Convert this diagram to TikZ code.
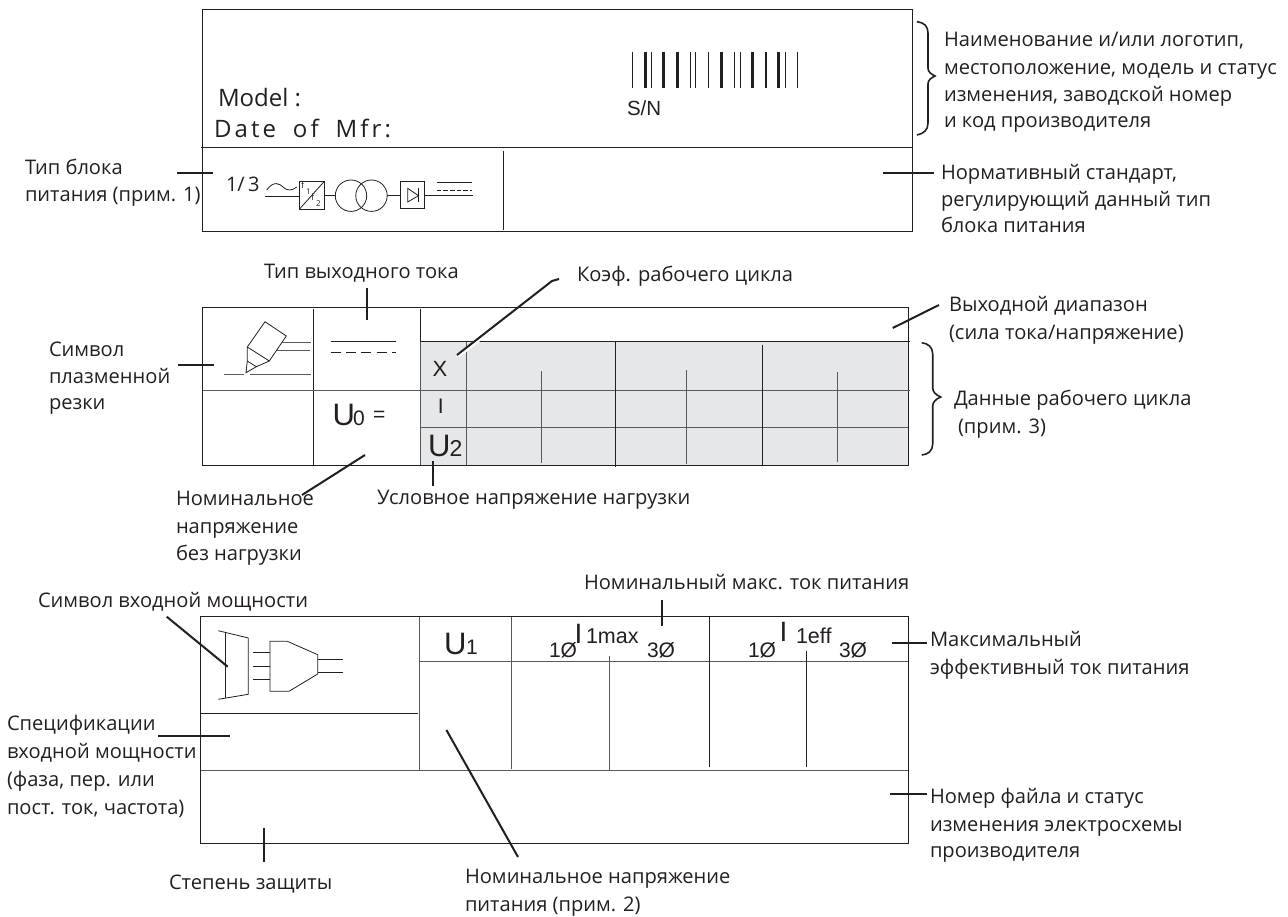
\documentclass[tikz,border=0pt]{standalone}
\usepackage{fontspec}
\setmainfont{Open Sans}
\newfontfamily\arialf{Liberation Sans}
\newfontfamily\modelf{Open Sans}
\newfontfamily\datef[LetterSpace=13,WordSpace=1.8]{Open Sans}
\definecolor{ink}{HTML}{231F20}
\definecolor{cellgray}{HTML}{E6E7E8}
\definecolor{rulegray}{HTML}{58595B}
\tikzset{
  lbl/.style={inner sep=0pt,outer sep=0pt,anchor=base west,yshift=-1pt,text=ink,font=\fontsize{20.1}{24}\selectfont},
  sym/.style={inner sep=0pt,outer sep=0pt,anchor=base west,text=ink},
  frame/.style={draw=ink,line width=1pt},
  graycell/.style={draw=rulegray,line width=0.9pt},
  thin/.style={draw=ink,line width=0.8pt},
  leaderline/.style={draw=ink,line width=2pt},
  bracestyle/.style={draw=ink,line width=1.6pt,line join=miter},
}
\newcommand{\fnt}[1]{\fontsize{#1}{#1}\selectfont}
\newcommand{\leader}[3]{\coordinate (#1a) at (#2);\coordinate (#1b) at (#3);\draw[leaderline] (#1a) -- (#1b);}
\begin{document}
\begin{tikzpicture}[x=1pt,y=-1pt]
\useasboundingbox (0,0) rectangle (1288,917);
% ---- box 1
\draw[frame] (202.5,10) rectangle (912,231.5);
\draw[frame] (201,148) -- (912,148);
\draw[frame] (503,151) -- (503,230);
\node[sym,font=\modelf\fnt{24}] (model) at (218,106.5) {Model :};
\node[sym,font=\datef\fnt{24}] (date) at (214,137.5) {Date of Mfr:};
\node[sym,font=\arialf\fnt{20.5}] (sn) at (627,116) {S/N};
\foreach \bx/\bw in {632.7/1,645.3/2.6,651.3/1,663.3/2.6,677.3/2.8,690/1,695.7/1,708.3/1,721.7/2.6,734/1,740/1,752.7/2.8,766/2.8,778.7/2.8,785/1,797.3/1}
  \draw[ink,line width=\bw pt] (\bx,52) -- (\bx,88);
% single-line scheme
\node[sym,font=\fnt{20}] (ph) at (226,192) {1/\,3};
\draw[thin] (266.7,190) .. controls (274,180) and (280,184) .. (283,187) .. controls (287,191) and (292,191) .. (296.7,187);
\draw[thin] (264.7,196.5) -- (299.3,196.5);
\draw[thin] (299.3,181.7) rectangle (324,209.3);
\draw[thin] (299.3,209.3) -- (324,181.7);
\node[sym,font=\fnt{9}] (f1a) at (301,189) {f};
\node[sym,font=\fnt{8}] (f1b) at (306,195) {1};
\node[sym,font=\fnt{9}] (f2a) at (311,201) {f};
\node[sym,font=\fnt{8}] (f2b) at (316,207) {2};
\draw[thin] (324,195.7) -- (335.3,195.7);
\draw[thin] (351,195.7) circle (15.7);
\draw[thin] (371.5,195.7) circle (15.7);
\draw[thin] (387.2,195.7) -- (400.7,195.7);
\draw[thin] (400.7,181) rectangle (424.3,208.3);
\draw[thin] (407.7,188.3) -- (407.7,202) -- (418.5,195.7) -- cycle;
\draw[thin] (418.7,188.3) -- (418.7,202);
\draw[thin] (424.3,195.7) -- (472.7,195.7);
\draw[thin] (436.7,182.7) -- (471.7,182.7);
\draw[thin,dash pattern=on 4.6pt off 2pt] (436.7,190) -- (471.7,190);
% ---- box 2
\fill[cellgray] (420,342) rectangle (908.5,465.5);
\draw[frame] (202.5,308) rectangle (908.5,465.5);
\draw[frame] (313.3,309) -- (313.3,465);
\draw[frame] (420,309) -- (420,342);
\draw[graycell] (420,342) -- (420,465);
\draw[graycell] (203,390) -- (420,390);
\draw[frame] (420,342) -- (910,342);
\draw[graycell] (420,390) -- (910,390);
\draw[graycell] (420,427.7) -- (908,427.7);
\draw[graycell] (466,342) -- (466,465);
\draw[frame] (615.3,342) -- (615.3,467);
\draw[frame] (762.3,345) -- (762.3,465);
\draw[graycell] (541,371) -- (541,463);
\draw[graycell] (686.7,370) -- (686.7,464);
\draw[graycell] (837.7,372) -- (837.7,462);
% plasma symbol
\draw[thin,line join=round] (265,321.7) -- (286.3,336) -- (269.3,361) -- (256.3,366.7) -- (247.3,361) -- (247.3,347) -- cycle;
\draw[thin] (247.3,347) -- (269.3,361);
\draw[thin] (247.3,361) -- (246,372.7) -- (256.3,366.7);
\draw[graycell,line width=1pt] (281.7,342.3) -- (310.7,342.3);
\draw[graycell,line width=1pt] (277.3,350.7) -- (310,350.7);
\draw[graycell,line width=1pt] (224.3,374) -- (244,374);
\draw[graycell,line width=1pt] (250,374.7) -- (310.7,374.7);
% output current
\draw[thin] (331,341.7) -- (396,341.7);
\draw[thin,dash pattern=on 10pt off 5.2pt] (331,352.7) -- (396,352.7);
% gray-table and U0 texts
\node[sym,font=\arialf\fnt{31}] (uz) at (332.5,425) {U};
\node[sym,font=\arialf\fnt{21}] (uzi) at (353,425.5) {0};
\node[sym,font=\arialf\fnt{21}] (uze) at (373,421) {=};
\node[sym,font=\arialf\fnt{22},anchor=base] (xl) at (440,376.5) {X};
\node[sym,font=\arialf\fnt{21},anchor=base] (il) at (440.7,413.5) {I};
\node[sym,font=\arialf\fnt{31}] (ut) at (428,456.7) {U};
\node[sym,font=\arialf\fnt{23}] (uti) at (449.5,456.7) {2};
% ---- box 3
\draw[frame] (200.5,616.5) -- (908.5,616.5) -- (908.5,843) -- (200.5,843) -- cycle;
\draw[graycell] (419,616.5) -- (419,770);
\draw[frame] (201,713.3) -- (418,713.3);
\draw[graycell] (419,661.7) -- (908,661.7);
\draw[graycell] (201,770) -- (908,770);
\draw[graycell] (511,617) -- (511,769);
\draw[frame] (709.3,617) -- (709.3,767);
\draw[graycell] (609,655.5) -- (609,770);
\draw[frame] (806.3,650.5) -- (806.3,767);
% input power symbol
\draw[thin] (218.3,630.7) -- (248.3,638) -- (248.3,694.3) -- (218.3,699.3);
\draw[thin] (225,632.3) -- (225,698.3);
\draw[thin] (253.3,652.3) -- (270,652.3);
\draw[thin] (253.3,666) -- (270,666);
\draw[thin] (253.3,679.7) -- (270,679.7);
\draw[thin] (270,641.3) -- (287.3,641.3) -- (317.7,654.7) -- (317.7,674) -- (289,691.3) -- (270,691.3) -- cycle;
\draw[thin] (317.7,659.3) -- (343.3,659.3);
\draw[thin] (317.7,672.7) -- (343.3,672.7);
\node[sym,font=\arialf\fnt{31}] (uo) at (444,654) {U};
\node[sym,font=\arialf\fnt{21}] (uoi) at (466,654) {1};
\node[sym,font=\arialf\fnt{21}] (a1) at (549,657.5) {1Ø};
\node[sym,font=\arialf\fnt{28}] (a2) at (574.5,643) {I};
\node[sym,font=\arialf\fnt{21.5}] (a3) at (586,643) {1max};
\node[sym,font=\arialf\fnt{21}] (a4) at (647,657.5) {3Ø};
\node[sym,font=\arialf\fnt{21}] (b1) at (748,657.5) {1Ø};
\node[sym,font=\arialf\fnt{28}] (b2) at (779.5,641) {I};
\node[sym,font=\arialf\fnt{21.5}] (b3) at (796,643) {1eff};
\node[sym,font=\arialf\fnt{21}] (b4) at (839,657.5) {3Ø};
% ---- braces
\draw[bracestyle] (917,21.7) .. controls (924,22.5) and (928,26) .. (928,33) -- (928,68) .. controls (928,72) and (931,74) .. (935,76) .. controls (931,78) and (928,80) .. (928,84) -- (928,123) .. controls (928,130) and (924,133.5) .. (917,135);
\draw[bracestyle] (921.7,342.7) .. controls (928,343.5) and (932.7,347) .. (932.7,354) -- (932.7,388) .. controls (932.7,392) and (936,395) .. (940.7,397) .. controls (936,399) and (932.7,402) .. (932.7,406) -- (932.7,444) .. controls (932.7,451) and (928,454.5) .. (921.7,455);
% ---- leaders
\leader{la}{177,173}{213,173}
\leader{lb}{883,172.7}{934,172.7}
\leader{lc}{367.3,288}{367.3,320}
\draw[white,line width=4pt] (458,356) -- (505,319);
\leader{ld}{178,365}{214,365}
\coordinate (lea) at (457,355);\coordinate (leb) at (552,281);\coordinate (lec) at (559,279);
\draw[leaderline] (lea) -- (leb) -- (lec);
\leader{lf}{892.7,328}{939,305}
\leader{lg}{365,455}{302,495}
\leader{lh}{432.7,460.7}{432.7,486}
\leader{li}{662.3,600}{662.3,625.7}
\leader{lj}{166.7,616.7}{227.7,666.7}
\leader{lk}{891.7,642.7}{927,642.7}
\leader{ll}{158,736}{230,736}
\leader{lm}{446.4,730}{518,857}
\leader{ln}{264,828}{264,861.7}
\leader{lo}{890,793.5}{927,793.5}
% ---- labels
\node[lbl] (t1) at (944,46) {Наименование и/или логотип,};
\node[lbl] (t2) at (944,74) {местоположение, модель и статус};
\node[lbl] (t3) at (944,101) {изменения, заводской номер};
\node[lbl] (t4) at (944,127) {и код производителя};
\node[lbl] (t5) at (25,174) {Тип блока};
\node[lbl] (t6) at (25,200.7) {питания (прим. 1)};
\node[lbl] (t7) at (941,179) {Нормативный стандарт,};
\node[lbl] (t8) at (941,206) {регулирующий данный тип};
\node[lbl] (t9) at (941,232) {блока питания};
\node[lbl] (t10) at (264,278) {Тип выходного тока};
\node[lbl] (t11) at (577,281) {Коэф. рабочего цикла};
\node[lbl] (t12) at (949,311) {Выходной диапазон};
\node[lbl] (t13) at (949,339) {(сила тока/напряжение)};
\node[lbl] (t14) at (49,355) {Символ};
\node[lbl] (t15) at (49,382) {плазменной};
\node[lbl] (t16) at (49,408) {резки};
\node[lbl] (t17) at (954,404) {Данные рабочего цикла};
\node[lbl] (t18) at (958,432) {(прим. 3)};
\node[lbl] (t19) at (176,504) {Номинальное};
\node[lbl] (t20) at (176,532) {напряжение};
\node[lbl] (t21) at (176,559) {без нагрузки};
\node[lbl] (t22) at (377,503) {Условное напряжение нагрузки};
\node[lbl] (t23) at (38,606) {Символ входной мощности};
\node[lbl] (t24) at (584,588) {Номинальный макс. ток питания};
\node[lbl] (t25) at (930,645.7) {Максимальный};
\node[lbl] (t26) at (930,673) {эффективный ток питания};
\node[lbl] (t27) at (7,729) {Спецификации};
\node[lbl] (t28) at (7,757) {входной мощности};
\node[lbl] (t29) at (7,785) {(фаза, пер. или};
\node[lbl] (t30) at (7,813) {пост. ток, частота)};
\node[lbl] (t31) at (930,802) {Номер файла и статус};
\node[lbl] (t32) at (930,830.7) {изменения электросхемы};
\node[lbl] (t33) at (930,856) {производителя};
\node[lbl] (t34) at (169,888) {Степень защиты};
\node[lbl] (t35) at (465,882) {Номинальное напряжение};
\node[lbl] (t36) at (465,910) {питания (прим. 2)};
\end{tikzpicture}
\end{document}
